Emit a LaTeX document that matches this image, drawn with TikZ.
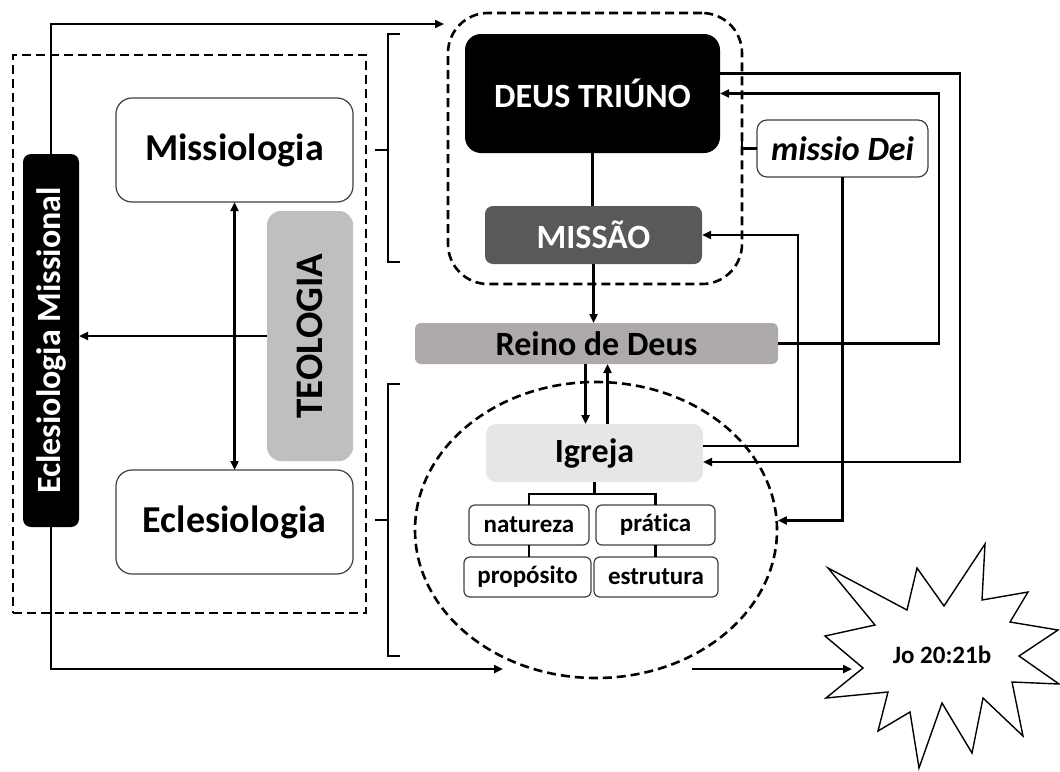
\documentclass[tikz,border=0pt]{standalone}
\usepackage{fontspec}
\setmainfont[Ligatures=NoCommon]{Carlito}
\usepackage{graphicx}
\usetikzlibrary{arrows.meta,shapes.geometric}
\definecolor{teo}{HTML}{BFBFBF}
\definecolor{missao}{HTML}{595959}
\definecolor{reino}{HTML}{AEAAAA}
\definecolor{igreja}{HTML}{E7E6E6}
\begin{document}
\begin{tikzpicture}
[x=0.5pt,y=-0.5pt,
 >={Triangle[length=4.5pt,width=4pt]},
 conn/.style={line width=1.3pt},
 dashframe/.style={draw,line width=1.3pt,dash pattern=on 4.5pt off 2.5pt,inner sep=0pt},
 box/.style={draw=black!75,line width=0.6pt,fill=white,rounded corners=8pt,inner sep=0pt,outer sep=0pt,font=\bfseries\fontsize{19pt}{22pt}\selectfont},
 dark/.style={fill=#1,inner sep=0pt,outer sep=0pt,font=\bfseries\fontsize{17pt}{20pt}\selectfont},
 small/.style={draw=black!75,line width=0.6pt,rounded corners=3pt,minimum height=20pt,inner sep=0pt,outer sep=0pt,font=\bfseries\fontsize{12.5pt}{14pt}\selectfont}]
\useasboundingbox (0,0) rectangle (1060,771);

% left block
\node[dashframe,minimum width=176.5pt,minimum height=279pt] (left) at (189.5,334) {};
\node[dark=black,text=white,rounded corners=4pt,minimum width=28pt,minimum height=186.5pt] (eclmis) at (51,340.5) {\rotatebox{90}{Eclesiologia Missional}};
\node[box,minimum width=118.5pt,minimum height=52pt] (missio) at (234.5,150) {Missiologia};
\node[box,minimum width=118.5pt,minimum height=52pt] (eclesio) at (234.5,522) {Eclesiologia};
\node[dark=teo,rounded corners=7pt,minimum width=43pt,minimum height=125pt,font=\bfseries\fontsize{19.5pt}{22pt}\selectfont] (teologia) at (310,336) {\rotatebox{90}{TEOLOGIA}};

% brackets
\draw[line width=0.9pt] (400,34) -- (388,34) -- (388,262) -- (400,262);
\draw[line width=0.9pt] (375,150) -- (388,150);
\draw[line width=0.9pt] (400,384) -- (388,384) -- (388,656) -- (400,656);
\draw[line width=0.9pt] (375,520) -- (388,520);

% right block
\node[dashframe,rounded corners=20pt,minimum width=147pt,minimum height=135.5pt] (trino) at (595,148.5) {};
\node[dark=black,text=white,rounded corners=8pt,minimum width=127.5pt,minimum height=59.5pt] (deus) at (592.5,93.5) {DEUS TRIÚNO};
\node[box,rounded corners=5pt,minimum width=85.5pt,minimum height=28.5pt,font=\bfseries\itshape\fontsize{17pt}{20pt}\selectfont] (dei) at (842.5,148.5) {missio Dei};
\node[dark=missao,text=white,rounded corners=4pt,minimum width=108.5pt,minimum height=29pt] (missao) at (593.5,235) {MISSÃO};
\node[dark=reino,rounded corners=3pt,minimum width=181.5pt,minimum height=20.5pt] (reino) at (596.5,343.5) {Reino de Deus};
\node[dashframe,ellipse,minimum width=181pt,minimum height=148pt] (corpo) at (596,530) {};
\node[dark=igreja,rounded corners=5pt,minimum width=108.5pt,minimum height=29pt] (igreja) at (594.5,453) {Igreja};
\node[small,minimum width=60pt] (natureza) at (529,525) {natureza};
\node[small,minimum width=59.5pt] (pratica) at (655.5,525) {prática};
\node[small,minimum width=63.5pt] (proposito) at (527.5,577) {propósito};
\node[small,minimum width=62pt] (estrutura) at (656,577) {estrutura};

% star
\draw[line width=0.7pt,fill=white] (828,568) -- (907,610) -- (917,568) -- (944,606) -- (985,544) -- (982,600) -- (1028,592) -- (1010,622) -- (1058,630) -- (1019,656) -- (1059,684) -- (1012,682) -- (1023,736) -- (983,698) -- (972,753) -- (942,703) -- (919,768) -- (910,712) -- (878,731) -- (888,692) -- (826,698) -- (863,668) -- (825,636) -- (875,625) -- cycle;
\node[font=\bfseries\fontsize{12.5pt}{14pt}\selectfont] (jo) at (942,655) {Jo 20:21b};

% connectors
\coordinate (topend) at (444,24);
\coordinate (botend) at (503,669);
\coordinate (botstart) at (692,669);
\coordinate (starin) at (852,669);
\coordinate (dn) at ([xshift=-5.5pt]reino.south);
\coordinate (up) at ([xshift=5.5pt]reino.south);
\coordinate (fork) at ([yshift=-6pt]igreja.south);

\draw[conn,->] (eclmis.north) |- (topend);
\draw[conn,->] (eclmis.south) |- (botend);
\draw[conn,->] (botstart) -- (starin);
\draw[conn,->] (teologia.west) -- (teologia.west -| eclmis.east);
\draw[conn,<->] (missio.south) -- (eclesio.north);

\draw[conn] (deus.south) -- (deus.south |- missao.north);
\draw[conn,->] (missao.south) -- (missao.south |- reino.north);
\draw[conn,->] (dn) -- (dn |- igreja.north);
\draw[conn,->] (up |- igreja.north) -- (up);
\draw[conn,->] ([yshift=10pt]deus.east) -- ++(240,0) |- ([yshift=-4.5pt]igreja.east);
\draw[conn,->] (reino.east) -- ++(161,0) |- (deus.east);
\draw[conn,->] ([yshift=3.5pt]igreja.east) -- ++(95,0) |- (missao.east);
\draw[conn,->] (dei.south) |- (corpo.3);
\draw[conn] (dei.west) -| ++(-15,-10);

\draw[conn] (igreja.south) -- (fork);
\draw[conn] (natureza.north) |- (fork) -| (pratica.north);
\draw[conn] (natureza.south) -- (natureza.south |- proposito.north);
\draw[conn] (pratica.south) -- (pratica.south |- estrutura.north);
\end{tikzpicture}
\end{document}
